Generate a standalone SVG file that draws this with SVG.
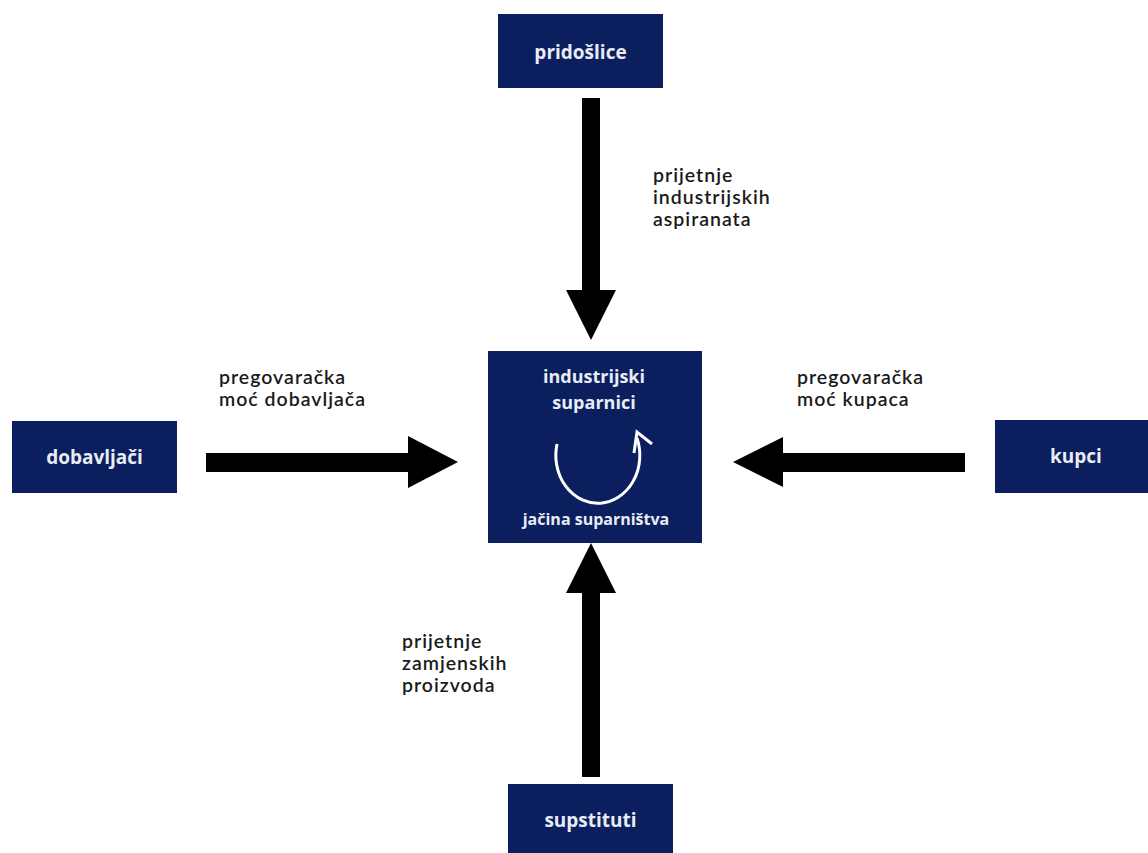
<svg xmlns="http://www.w3.org/2000/svg" width="1148" height="853" viewBox="0 0 1148 853">
<style>
.box{fill:#0b1f5e}
.nt{font-family:"Open Sans","Noto Sans",sans-serif;font-weight:700;font-size:19px;fill:#e8ecf5;text-anchor:middle}
.ct{font-family:"Open Sans","Noto Sans",sans-serif;font-weight:700;font-size:18px;fill:#e8ecf5;text-anchor:middle}
.lbl{font-family:Lato,"Open Sans",sans-serif;font-weight:600;font-size:19.5px;letter-spacing:1px;fill:#1a1a1a}
.arr{fill:#000}
</style>
<rect width="1148" height="853" fill="#fff"/>
<g id="pridoslice">
<rect class="box" x="498" y="14" width="165" height="74"/>
<text class="nt" x="580.5" y="59">pridošlice</text>
</g>
<g id="dobavljaci">
<rect class="box" x="12" y="421" width="165" height="72"/>
<text class="nt" x="94.5" y="464">dobavljači</text>
</g>
<g id="kupci">
<rect class="box" x="995" y="420" width="153" height="73"/>
<text class="nt" x="1076" y="463">kupci</text>
</g>
<g id="supstituti">
<rect class="box" x="508" y="784" width="165" height="69"/>
<text class="nt" x="590.5" y="827">supstituti</text>
</g>
<g id="industrijski-suparnici">
<rect class="box" x="488" y="351" width="214" height="192"/>
<text class="ct" x="594" y="383">industrijski</text>
<text class="ct" x="594" y="409">suparnici</text>
<path d="M 557 444 A 42 48 0 1 0 637 438" fill="none" stroke="#fff" stroke-width="3"/>
<polyline points="652,444 637,432 634,453" fill="none" stroke="#fff" stroke-width="3" stroke-linejoin="miter"/>
<text class="ct" style="font-size:16px" x="596" y="525">jačina suparništva</text>
</g>
<g id="connectors">
<polygon class="arr" points="582,98 600,98 600,290 616,290 591,340 566,290 582,290"/>
<polygon class="arr" points="582,777 600,777 600,593 616,593 591,543 566,593 582,593"/>
<polygon class="arr" points="206,453 408,453 408,436 458,462 408,488 408,472 206,472"/>
<polygon class="arr" points="965,453 783,453 783,437 733,462 783,487 783,472 965,472"/>
</g>
<g id="labels">
<text class="lbl" x="653" y="182">prijetnje</text>
<text class="lbl" x="653" y="204">industrijskih</text>
<text class="lbl" x="653" y="226">aspiranata</text>
<text class="lbl" x="219" y="384">pregovaračka</text>
<text class="lbl" x="219" y="406">moć dobavljača</text>
<text class="lbl" x="797" y="384">pregovaračka</text>
<text class="lbl" x="797" y="406">moć kupaca</text>
<text class="lbl" x="402" y="648">prijetnje</text>
<text class="lbl" x="402" y="670">zamjenskih</text>
<text class="lbl" x="402" y="692">proizvoda</text>
</g>
</svg>
